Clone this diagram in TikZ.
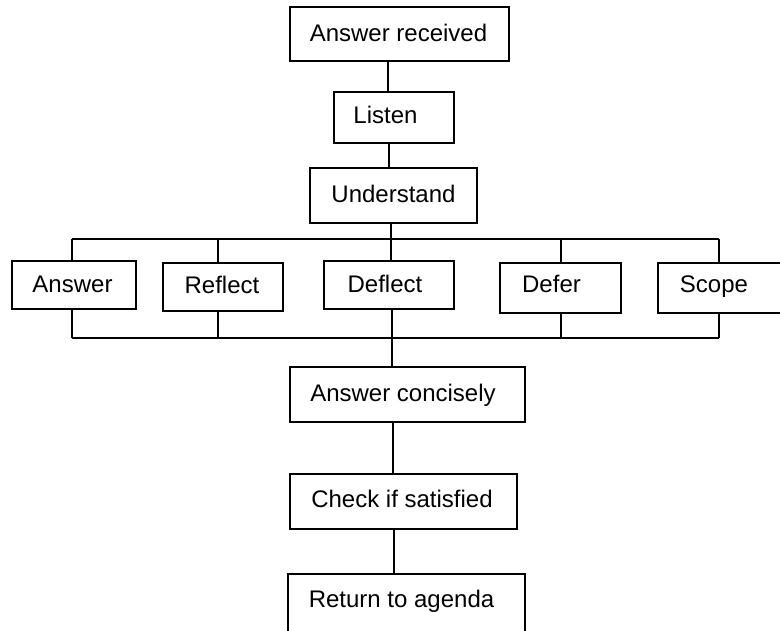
\documentclass[tikz,border=0pt]{standalone}
\usepackage{fontspec}
\setmainfont{Liberation Sans}
\begin{document}
\begin{tikzpicture}[x=1pt,y=-1pt,
  box/.style={draw=black,line width=1.2pt,rectangle,inner sep=0pt,outer sep=0pt},
  txt/.style={anchor=base,inner sep=0pt,font=\fontsize{24pt}{28pt}\selectfont},
  conn/.style={draw=black,line width=1.2pt}]
\useasboundingbox (0,0) rectangle (780,630);
\clip (0,0) rectangle (780,630);
% boxes
\node[box,minimum width=219pt,minimum height=54pt] (b1) at (399.5,34) {};
\node[box,minimum width=120pt,minimum height=51pt] (b2) at (394,117.5) {};
\node[box,minimum width=167pt,minimum height=55pt] (b3) at (393.5,195.5) {};
\node[box,minimum width=124pt,minimum height=48pt] (a1) at (74,285) {};
\node[box,minimum width=120pt,minimum height=48pt] (a2) at (223,287) {};
\node[box,minimum width=130pt,minimum height=48pt] (a3) at (389,285) {};
\node[box,minimum width=121pt,minimum height=50pt] (a4) at (560.5,288) {};
\node[box,minimum width=132pt,minimum height=50pt] (a5) at (724,288) {};
\node[box,minimum width=235pt,minimum height=55pt] (c1) at (407.5,394.5) {};
\node[box,minimum width=227pt,minimum height=55pt] (c2) at (403.5,501.5) {};
\node[box,minimum width=237pt,minimum height=76pt] (c3) at (406.5,612) {};
% texts
\node[txt] (t1) at (398.5,41) {Answer received};
\node[txt] (t2) at (385.5,123) {Listen};
\node[txt] (t3) at (393.5,202) {Understand};
\node[txt] (s1) at (72.5,292) {Answer};
\node[txt] (s2) at (222,293) {Reflect};
\node[txt] (s3) at (385,292) {Deflect};
\node[txt] (s4) at (551.5,292) {Defer};
\node[txt] (s5) at (714,292) {Scope};
\node[txt] (u1) at (403,401) {Answer concisely};
\node[txt] (u2) at (402,507) {Check if satisfied};
\node[txt] (u3) at (401.5,607) {Return to agenda};
% bus coordinates
\coordinate (topL) at (72,239);
\coordinate (topR) at (719,239);
\coordinate (botL) at (72,338);
\coordinate (botR) at (719,338);
% connectors
\draw[conn] (388,0 |- b1.south) -- (388,0 |- b2.north);
\draw[conn] (389,0 |- b2.south) -- (389,0 |- b3.north);
\draw[conn] (391,0 |- b3.south) -- (391,0 |- a3.north);
\draw[conn] (topL) -- (topR);
\draw[conn] (botL) -- (botR);
\draw[conn] (topL) -- (72,0 |- a1.north);
\draw[conn] (218,0 |- topL) -- (218,0 |- a2.north);
\draw[conn] (561,0 |- topL) -- (561,0 |- a4.north);
\draw[conn] (topR) -- (719,0 |- a5.north);
\draw[conn] (botL) -- (72,0 |- a1.south);
\draw[conn] (218,0 |- botL) -- (218,0 |- a2.south);
\draw[conn] (561,0 |- botL) -- (561,0 |- a4.south);
\draw[conn] (botR) -- (719,0 |- a5.south);
\draw[conn] (392,0 |- a3.south) -- (392,0 |- c1.north);
\draw[conn] (393,0 |- c1.south) -- (393,0 |- c2.north);
\draw[conn] (394,0 |- c2.south) -- (394,0 |- c3.north);
\end{tikzpicture}
\end{document}
